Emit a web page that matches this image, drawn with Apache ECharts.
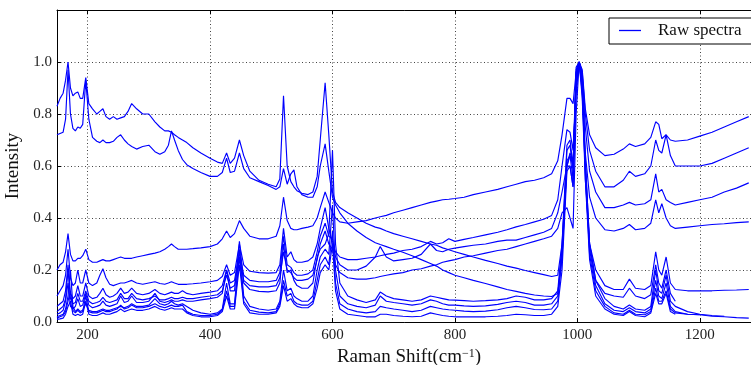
<!DOCTYPE html>
<html><head><meta charset="utf-8">
<script src="https://cdn.jsdelivr.net/npm/echarts@6/dist/echarts.min.js"></script>
<style>html,body{margin:0;padding:0;background:#fff}#c{width:751px;height:365px}</style>
</head><body><div id="c"></div>
<script>
// Raman shift sample positions (cm^-1)
const xLeft = [150,155,160,164,168,172,176,180,184,188,
  192,197,202,208,215,220,225,230,236,242,
  248,254,260,266,272,280,290,300,310,318,
  326,332,337,342,348,355,362,372,385,400,
  412,420,427,433,440,448,455,465,480,495,
  508,514,520,526,532,537,542,550,560,568,
  575,580,588,594,600,605,612];
const xRight = [625,640,655,670,678,688,700,715,730,745,
  760,770,780,790,800,815,830,850,870,885,
  900,915,930,945,958,968,975,983,988,993,
  998,1003,1008,1013,1020,1030,1045,1060,1075,1085,
  1095,1110,1120,1128,1133,1138,1145,1152,1160,1180,
  1200,1220,1240,1260,1280];

// Intensities, one spectrum per pair of arrays (left part, right part)
const sA_left = [0.83,0.86,0.88,0.93,1.00,0.90,0.87,0.88,0.885,0.86,
  0.86,0.94,0.84,0.82,0.80,0.81,0.82,0.79,0.78,0.79,
  0.78,0.785,0.79,0.81,0.84,0.82,0.80,0.80,0.77,0.75,
  0.735,0.735,0.73,0.72,0.71,0.70,0.69,0.67,0.65,0.63,
  0.615,0.61,0.65,0.61,0.63,0.70,0.64,0.58,0.545,0.53,
  0.52,0.55,0.87,0.60,0.54,0.52,0.505,0.495,0.49,0.50,
  0.56,0.70,0.92,0.72,0.50,0.46,0.44];
const sA_right = [0.42,0.40,0.38,0.365,0.36,0.35,0.34,0.33,0.32,0.31,
  0.30,0.295,0.285,0.278,0.27,0.26,0.25,0.237,0.225,0.215,
  0.207,0.198,0.19,0.182,0.175,0.18,0.30,0.60,0.65,0.62,
  0.92,1.00,0.95,0.55,0.30,0.20,0.14,0.125,0.125,0.165,
  0.13,0.125,0.14,0.27,0.20,0.18,0.25,0.15,0.125,0.12,
  0.12,0.12,0.122,0.123,0.125];

const sB_left = [0.72,0.725,0.73,0.78,0.97,0.80,0.745,0.735,0.75,0.745,
  0.76,0.93,0.78,0.71,0.695,0.69,0.70,0.69,0.69,0.695,
  0.71,0.72,0.70,0.685,0.675,0.665,0.675,0.68,0.655,0.645,
  0.655,0.68,0.735,0.70,0.66,0.625,0.605,0.59,0.575,0.56,
  0.56,0.575,0.63,0.575,0.58,0.65,0.59,0.555,0.54,0.525,
  0.51,0.52,0.59,0.53,0.57,0.585,0.52,0.49,0.48,0.48,
  0.52,0.60,0.685,0.58,0.48,0.45,0.42];
const sB_right = [0.38,0.35,0.325,0.305,0.298,0.29,0.28,0.268,0.255,0.24,
  0.225,0.215,0.20,0.19,0.18,0.17,0.16,0.148,0.135,0.125,
  0.118,0.11,0.104,0.10,0.098,0.11,0.25,0.60,0.64,0.60,
  0.90,1.00,0.93,0.62,0.30,0.16,0.11,0.10,0.095,0.13,
  0.10,0.09,0.105,0.22,0.15,0.13,0.20,0.11,0.08];

const sC_left = [0.20,0.22,0.23,0.27,0.34,0.26,0.235,0.235,0.245,0.245,
  0.255,0.28,0.24,0.23,0.23,0.235,0.24,0.235,0.235,0.24,
  0.245,0.25,0.245,0.245,0.245,0.25,0.255,0.26,0.265,0.27,
  0.28,0.29,0.30,0.29,0.28,0.28,0.28,0.282,0.285,0.29,
  0.30,0.32,0.35,0.325,0.34,0.39,0.36,0.33,0.32,0.32,
  0.33,0.37,0.48,0.39,0.36,0.355,0.355,0.36,0.365,0.37,
  0.40,0.44,0.50,0.46,0.42,0.40,0.385];
const sC_right = [0.38,0.385,0.39,0.40,0.405,0.41,0.42,0.43,0.44,0.45,
  0.46,0.465,0.47,0.472,0.475,0.48,0.49,0.50,0.51,0.52,
  0.53,0.54,0.545,0.555,0.57,0.62,0.72,0.86,0.86,0.84,
  0.96,1.00,0.97,0.82,0.72,0.67,0.64,0.645,0.665,0.685,
  0.675,0.685,0.71,0.77,0.76,0.705,0.72,0.70,0.695,0.70,
  0.715,0.73,0.75,0.77,0.79];

const sE1_left = [0.10,0.12,0.14,0.18,0.28,0.17,0.14,0.15,0.20,0.15,
  0.15,0.20,0.15,0.14,0.15,0.18,0.205,0.17,0.145,0.14,
  0.145,0.15,0.15,0.155,0.16,0.15,0.145,0.15,0.155,0.148,
  0.145,0.15,0.155,0.15,0.145,0.145,0.145,0.147,0.15,0.155,
  0.16,0.175,0.22,0.18,0.19,0.30,0.22,0.195,0.19,0.188,
  0.19,0.22,0.36,0.25,0.27,0.24,0.23,0.23,0.235,0.25,
  0.30,0.36,0.44,0.36,0.30,0.27,0.25];
const sE1_right = [0.24,0.24,0.245,0.25,0.255,0.26,0.265,0.275,0.28,0.29,
  0.31,0.30,0.305,0.32,0.31,0.318,0.325,0.335,0.345,0.355,
  0.366,0.375,0.385,0.395,0.41,0.47,0.60,0.74,0.73,0.66,
  0.93,1.00,0.96,0.80,0.66,0.58,0.52,0.52,0.545,0.58,
  0.56,0.57,0.60,0.70,0.66,0.65,0.72,0.64,0.60,0.60,
  0.60,0.61,0.63,0.65,0.67];

const sE2_left = [0.06,0.07,0.08,0.12,0.22,0.11,0.09,0.10,0.14,0.10,
  0.10,0.15,0.10,0.09,0.095,0.11,0.13,0.105,0.095,0.10,
  0.11,0.13,0.11,0.115,0.13,0.11,0.105,0.11,0.125,0.11,
  0.105,0.11,0.115,0.11,0.11,0.12,0.11,0.105,0.11,0.115,
  0.12,0.14,0.20,0.15,0.16,0.27,0.18,0.16,0.155,0.155,
  0.16,0.19,0.33,0.22,0.21,0.19,0.18,0.18,0.185,0.20,
  0.27,0.33,0.38,0.33,0.32,0.25,0.22];
const sE2_right = [0.20,0.20,0.215,0.25,0.29,0.25,0.235,0.24,0.245,0.26,
  0.30,0.275,0.27,0.28,0.284,0.29,0.295,0.30,0.31,0.315,
  0.315,0.325,0.335,0.345,0.36,0.42,0.50,0.60,0.60,0.52,
  0.88,1.00,0.95,0.75,0.58,0.50,0.44,0.44,0.45,0.46,
  0.45,0.455,0.47,0.57,0.50,0.51,0.47,0.46,0.45,0.46,
  0.47,0.48,0.50,0.515,0.535];

const sE3_left = [0.04,0.05,0.06,0.09,0.20,0.09,0.07,0.075,0.11,0.08,
  0.08,0.12,0.08,0.07,0.075,0.08,0.095,0.08,0.075,0.08,
  0.085,0.11,0.09,0.09,0.11,0.09,0.085,0.09,0.10,0.085,
  0.085,0.09,0.095,0.09,0.09,0.095,0.09,0.09,0.095,0.10,
  0.105,0.12,0.18,0.13,0.14,0.25,0.16,0.14,0.135,0.135,
  0.14,0.17,0.27,0.20,0.19,0.17,0.16,0.16,0.165,0.18,
  0.24,0.30,0.35,0.30,0.28,0.22,0.19];
const sE3_right = [0.17,0.165,0.165,0.17,0.175,0.18,0.185,0.19,0.20,0.205,
  0.215,0.22,0.23,0.235,0.24,0.25,0.255,0.265,0.275,0.28,
  0.29,0.30,0.31,0.32,0.33,0.36,0.42,0.44,0.40,0.36,
  0.80,1.00,0.93,0.65,0.48,0.40,0.355,0.35,0.36,0.375,
  0.355,0.36,0.38,0.47,0.42,0.455,0.40,0.37,0.36,0.365,
  0.37,0.375,0.378,0.382,0.385];

const sE4_left = [0.03,0.035,0.045,0.08,0.15,0.06,0.05,0.06,0.09,0.06,
  0.065,0.11,0.065,0.055,0.06,0.065,0.08,0.065,0.06,0.065,
  0.07,0.10,0.075,0.08,0.10,0.075,0.075,0.08,0.11,0.08,
  0.075,0.08,0.085,0.08,0.08,0.085,0.08,0.08,0.085,0.09,
  0.095,0.11,0.20,0.12,0.12,0.31,0.15,0.125,0.118,0.116,
  0.12,0.15,0.30,0.19,0.20,0.16,0.14,0.13,0.13,0.15,
  0.25,0.28,0.30,0.34,0.66,0.30,0.15];
const sE4_right = [0.10,0.085,0.075,0.085,0.115,0.10,0.09,0.085,0.08,0.085,
  0.10,0.095,0.09,0.085,0.084,0.082,0.08,0.082,0.085,0.09,
  0.10,0.095,0.085,0.085,0.09,0.12,0.30,0.68,0.70,0.60,
  0.95,1.00,0.90,0.62,0.30,0.16,0.09,0.06,0.05,0.065,
  0.05,0.045,0.06,0.20,0.12,0.11,0.18,0.08,0.06,0.04,
  0.03,0.025,0.022];

const sL1_left = [0.02,0.025,0.03,0.05,0.10,0.20,0.06,0.04,0.05,0.04,
  0.045,0.07,0.045,0.04,0.04,0.045,0.05,0.045,0.045,0.05,
  0.055,0.06,0.055,0.06,0.07,0.06,0.06,0.065,0.09,0.07,
  0.065,0.07,0.08,0.07,0.065,0.07,0.06,0.045,0.035,0.03,
  0.035,0.05,0.15,0.07,0.07,0.28,0.10,0.06,0.05,0.045,
  0.05,0.08,0.20,0.12,0.13,0.10,0.09,0.08,0.08,0.10,
  0.20,0.25,0.28,0.26,0.45,0.20,0.10];
const sL1_right = [0.07,0.06,0.055,0.065,0.10,0.08,0.075,0.07,0.065,0.07,
  0.085,0.08,0.07,0.065,0.065,0.062,0.06,0.062,0.068,0.075,
  0.08,0.075,0.065,0.065,0.07,0.10,0.28,0.66,0.68,0.58,
  0.96,1.00,0.90,0.60,0.28,0.14,0.07,0.045,0.04,0.055,
  0.04,0.035,0.05,0.16,0.10,0.09,0.15,0.06,0.04,0.03,
  0.028,0.022,0.02,0.017,0.015];

const sL2_left = [0.015,0.02,0.025,0.04,0.08,0.12,0.045,0.035,0.045,0.035,
  0.04,0.10,0.04,0.035,0.035,0.04,0.045,0.04,0.04,0.045,
  0.05,0.065,0.05,0.055,0.065,0.055,0.055,0.06,0.07,0.06,
  0.055,0.06,0.065,0.06,0.06,0.065,0.04,0.03,0.025,0.025,
  0.03,0.045,0.12,0.06,0.06,0.25,0.08,0.045,0.038,0.035,
  0.04,0.07,0.16,0.10,0.11,0.08,0.07,0.065,0.065,0.08,
  0.16,0.22,0.25,0.22,0.35,0.15,0.07];
const sL2_right = [0.05,0.04,0.035,0.04,0.06,0.055,0.05,0.045,0.04,0.045,
  0.06,0.055,0.05,0.047,0.045,0.042,0.04,0.042,0.047,0.055,
  0.06,0.055,0.048,0.047,0.05,0.08,0.25,0.62,0.64,0.55,
  0.97,1.00,0.88,0.58,0.26,0.12,0.06,0.035,0.03,0.045,
  0.03,0.028,0.04,0.13,0.08,0.08,0.12,0.05,0.035,0.03,
  0.028];

const sL3_left = [0.01,0.012,0.015,0.03,0.06,0.08,0.03,0.025,0.03,0.025,
  0.03,0.08,0.03,0.025,0.025,0.03,0.035,0.03,0.03,0.035,
  0.04,0.05,0.04,0.045,0.05,0.045,0.045,0.05,0.06,0.05,
  0.045,0.05,0.055,0.05,0.05,0.05,0.035,0.025,0.02,0.02,
  0.025,0.04,0.10,0.05,0.05,0.22,0.07,0.035,0.03,0.03,
  0.035,0.06,0.14,0.08,0.09,0.07,0.06,0.055,0.055,0.07,
  0.13,0.19,0.22,0.20,0.30,0.12,0.05];
const sL3_right = [0.03,0.025,0.02,0.02,0.03,0.03,0.025,0.022,0.02,0.022,
  0.035,0.03,0.025,0.022,0.02,0.02,0.02,0.02,0.022,0.025,
  0.03,0.028,0.025,0.025,0.03,0.06,0.20,0.58,0.60,0.52,
  0.98,1.00,0.86,0.55,0.24,0.10,0.05,0.03,0.025,0.04,
  0.025,0.02,0.035,0.11,0.07,0.07,0.11,0.04,0.03];

const xTickValues = [200,400,600,800,1000,1200];
const seriesName = 'Raw spectra';

const spectra = [
  [sA_left, sA_right], [sB_left, sB_right], [sC_left, sC_right],
  [sE1_left, sE1_right], [sE2_left, sE2_right], [sE3_left, sE3_right],
  [sE4_left, sE4_right], [sL1_left, sL1_right], [sL2_left, sL2_right],
  [sL3_left, sL3_right]
];

function pairs(left, right) {
  const xs = xLeft.concat(xRight);
  const ys = left.concat(right);
  const out = [];
  for (let i = 0; i < ys.length && i < xs.length; i++) out.push([xs[i], ys[i]]);
  return out;
}

const FONT = 'Liberation Serif';
const chart = echarts.init(document.getElementById('c'), null, {renderer: 'canvas'});
chart.setOption({
  animation: false,
  backgroundColor: '#ffffff',
  grid: {left: 57, top: 10, right: -10, bottom: 43, containLabel: false, outerBoundsMode: 'none'},
  legend: {
    data: [{name: seriesName, icon: 'rect', itemStyle: {color: '#0000ff'}}],
    left: 609, top: 18,
    backgroundColor: '#ffffff', borderColor: '#000', borderWidth: 1, borderRadius: 0,
    padding: [4, 40, 5, 10], itemWidth: 22, itemHeight: 1.3,
    textStyle: {fontFamily: FONT, fontSize: 17, color: '#111', padding: [0, 0, 0, 12]}
  },
  xAxis: [{
    type: 'value', min: 150, max: 1300, position: 'bottom',
    name: 'Raman Shift(cm{sup|\u22121})', nameLocation: 'middle', nameGap: 19,
    nameTextStyle: {fontFamily: FONT, fontSize: 19, color: '#111',
      rich: {sup: {fontFamily: FONT, fontSize: 12, color: '#111', verticalAlign: 'top'}}},
    axisLine: {show: true, onZero: false, lineStyle: {color: '#000', width: 1}},
    axisTick: {show: true, inside: true, length: 4, customValues: xTickValues, lineStyle: {color: '#000'}},
    axisLabel: {show: true, customValues: xTickValues, margin: 6, fontFamily: FONT, fontSize: 15, color: '#222',
      formatter: v => String(v)},
    splitLine: {show: true, lineStyle: {color: '#444', width: 1, type: [1, 2.5]}}
  }, {
    type: 'value', min: 150, max: 1300, position: 'top',
    axisLine: {show: true, onZero: false, lineStyle: {color: '#000', width: 1}},
    axisTick: {show: true, inside: true, length: 4, customValues: xTickValues, lineStyle: {color: '#000'}},
    axisLabel: {show: false}, splitLine: {show: false}
  }],
  yAxis: {
    type: 'value', min: 0, max: 1.2, interval: 0.2,
    name: 'Intensity', nameLocation: 'middle', nameGap: 25,
    nameTextStyle: {fontFamily: FONT, fontSize: 19, color: '#111'},
    axisLine: {show: true, onZero: false, lineStyle: {color: '#000', width: 1}},
    axisTick: {show: true, inside: true, length: 4, lineStyle: {color: '#000'}},
    axisLabel: {margin: 5, fontFamily: FONT, fontSize: 15, color: '#222',
      formatter: v => (v > 1.05 ? '' : v.toFixed(1))},
    splitLine: {show: true, lineStyle: {color: '#444', width: 1, type: [1, 2.5]}}
  },
  series: spectra.map(s => ({
    name: seriesName, type: 'line', xAxisIndex: 0, symbol: 'none', showSymbol: false,
    clip: true, data: pairs(s[0], s[1]),
    lineStyle: {color: '#0000ff', width: 1.15}, itemStyle: {color: '#0000ff'}
  }))
});
</script>
</body></html>
